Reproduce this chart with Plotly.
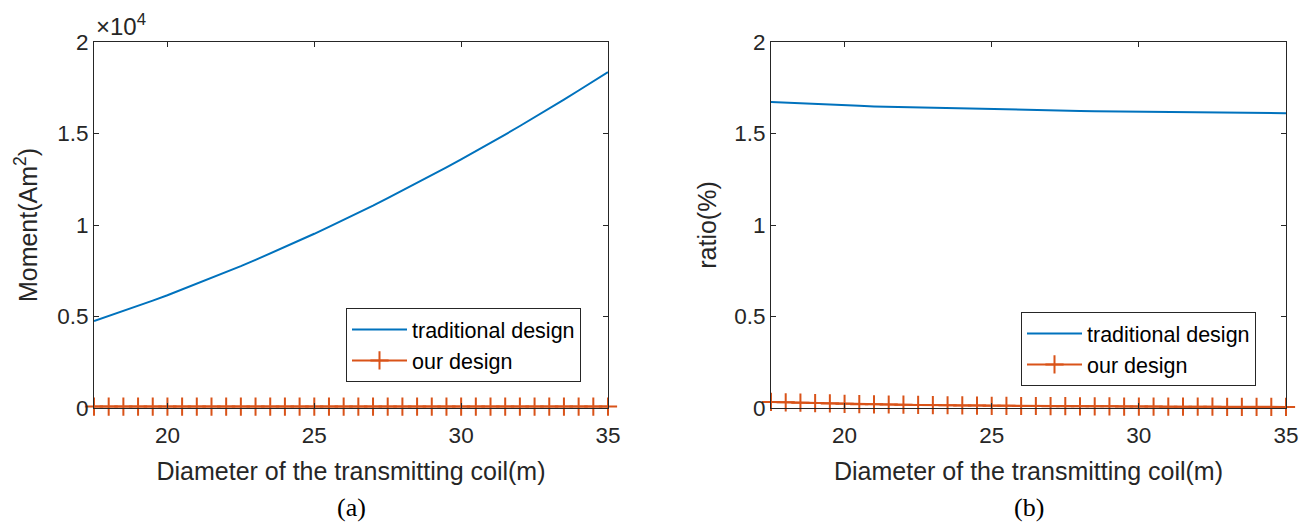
import plotly.graph_objects as go

diameter = [17.5, 18, 18.5, 19, 19.5, 20, 20.5, 21, 21.5, 22, 22.5, 23, 23.5, 24, 24.5,
            25, 25.5, 26, 26.5, 27, 27.5, 28, 28.5, 29, 29.5, 30, 30.5, 31, 31.5, 32,
            32.5, 33, 33.5, 34, 34.5, 35]

# Moment (x10^4 Am^2)
moment_traditional = [0.475, 0.502, 0.529, 0.558, 0.587, 0.616, 0.647, 0.678, 0.710, 0.742,
                      0.775, 0.809, 0.844, 0.879, 0.915, 0.952, 0.990, 1.028, 1.067, 1.106,
                      1.147, 1.188, 1.229, 1.272, 1.315, 1.359, 1.403, 1.449, 1.494, 1.541,
                      1.588, 1.636, 1.685, 1.735, 1.785, 1.835]
moment_ours = [0.008, 0.008, 0.008, 0.008, 0.008, 0.008, 0.008, 0.008, 0.008, 0.008,
               0.008, 0.008, 0.008, 0.008, 0.008, 0.008, 0.008, 0.008, 0.008, 0.008,
               0.008, 0.008, 0.008, 0.008, 0.008, 0.008, 0.008, 0.008, 0.008, 0.008,
               0.008, 0.008, 0.008, 0.008, 0.008, 0.008]

# ratio (%)
ratio_traditional = [1.672, 1.668, 1.664, 1.660, 1.657, 1.654, 1.651, 1.648, 1.646, 1.643,
                     1.641, 1.639, 1.637, 1.635, 1.633, 1.632, 1.630, 1.629, 1.627, 1.626,
                     1.625, 1.623, 1.622, 1.621, 1.620, 1.619, 1.618, 1.617, 1.616, 1.615,
                     1.615, 1.614, 1.613, 1.612, 1.612, 1.611]
ratio_ours = [0.033, 0.031, 0.029, 0.027, 0.025, 0.023, 0.021, 0.020, 0.019, 0.018,
              0.017, 0.016, 0.015, 0.014, 0.013, 0.012, 0.012, 0.011, 0.011, 0.010,
              0.010, 0.009, 0.009, 0.009, 0.008, 0.008, 0.008, 0.007, 0.007, 0.007,
              0.007, 0.006, 0.006, 0.006, 0.006, 0.006]

x_ticks = [20, 25, 30, 35]
y_ticks = [0, 0.5, 1, 1.5, 2]
y_tick_labels = ["0", "0.5", "1", "1.5", "2"]

BLUE = "#0072BD"
ORANGE = "#D95319"
AX = "#262626"
FONT = "Liberation Sans, Arial, Helvetica, sans-serif"
SERIF = "Liberation Serif, Times New Roman, serif"
TICK_SIZE = 22.5
TITLE_SIZE = 25
LEGEND_SIZE = 21.5

fig = go.Figure()

def add_pair(xa, ya, trad, ours, legend):
    fig.add_trace(go.Scatter(x=diameter, y=trad, mode="lines", name="traditional design",
                             line=dict(color=BLUE, width=2), xaxis=xa, yaxis=ya, legend=legend))
    fig.add_trace(go.Scatter(x=diameter, y=ours, mode="lines+markers", name="our design",
                             line=dict(color=ORANGE, width=2),
                             marker=dict(symbol="cross-thin", size=13, color=ORANGE,
                                         line=dict(color=ORANGE, width=2)),
                             cliponaxis=False, xaxis=xa, yaxis=ya, legend=legend))

add_pair("x", "y", moment_traditional, moment_ours, "legend")
add_pair("x2", "y2", ratio_traditional, ratio_ours, "legend2")

X1 = [94 / 1308, 608 / 1308]
X2 = [771 / 1308, 1286 / 1308]
YD = [1 - 408 / 523, 1 - 42 / 523]

common_x = dict(range=[17.5, 35], tickvals=x_ticks, ticks="inside", ticklen=5, tickwidth=1,
                tickcolor=AX, showline=True, linecolor=AX, linewidth=1, mirror="ticks",
                showgrid=False, zeroline=False, automargin=False, ticklabelstandoff=7,
                tickfont=dict(family=FONT, size=TICK_SIZE, color=AX))
common_y = dict(range=[0, 2], tickvals=y_ticks, ticktext=y_tick_labels, ticks="inside", ticklen=5,
                tickwidth=1, tickcolor=AX, showline=True, linecolor=AX, linewidth=1,
                mirror="ticks", showgrid=False, zeroline=False, automargin=False,
                tickfont=dict(family=FONT, size=TICK_SIZE, color=AX), domain=YD)

xtitle = dict(text="Diameter of the transmitting coil(m)",
              font=dict(family=FONT, size=TITLE_SIZE, color=AX), standoff=15)

legend_common = dict(xanchor="left", yanchor="top", bgcolor="white", bordercolor=AX,
                     borderwidth=1, font=dict(family=FONT, size=LEGEND_SIZE, color="black"),
                     tracegroupgap=0, itemwidth=55)

fig.update_layout(
    width=1308, height=523,
    margin=dict(l=0, r=0, t=0, b=0, autoexpand=False),
    paper_bgcolor="white", plot_bgcolor="white",
    xaxis=dict(domain=X1, anchor="y", title=xtitle, **common_x),
    yaxis=dict(anchor="x", title=dict(text="Moment(Am<sup>2</sup>)",
                                      font=dict(family=FONT, size=TITLE_SIZE, color=AX), standoff=12),
               **common_y),
    xaxis2=dict(domain=X2, anchor="y2", title=xtitle, **common_x),
    yaxis2=dict(anchor="x2", title=dict(text="ratio(%)",
                                        font=dict(family=FONT, size=TITLE_SIZE, color=AX), standoff=10),
                **common_y),
    legend=dict(x=346 / 1308, y=1 - 308 / 523, **legend_common),
    legend2=dict(x=1021 / 1308, y=1 - 312 / 523, **legend_common),
    showlegend=True,
    annotations=[
        dict(text="×10<sup>4</sup>", x=X1[0], y=YD[1], xref="paper", yref="paper",
             xanchor="left", yanchor="bottom", showarrow=False, yshift=0,
             font=dict(family=FONT, size=24, color=AX)),
        dict(text="(a)", x=(X1[0] + X1[1]) / 2, y=1 - 507 / 523, xref="paper", yref="paper",
             xanchor="center", yanchor="middle", showarrow=False,
             font=dict(family=SERIF, size=26, color="black")),
        dict(text="(b)", x=(X2[0] + X2[1]) / 2, y=1 - 507 / 523, xref="paper", yref="paper",
             xanchor="center", yanchor="middle", showarrow=False,
             font=dict(family=SERIF, size=26, color="black")),
    ],
)

fig.write_html("out.html")
